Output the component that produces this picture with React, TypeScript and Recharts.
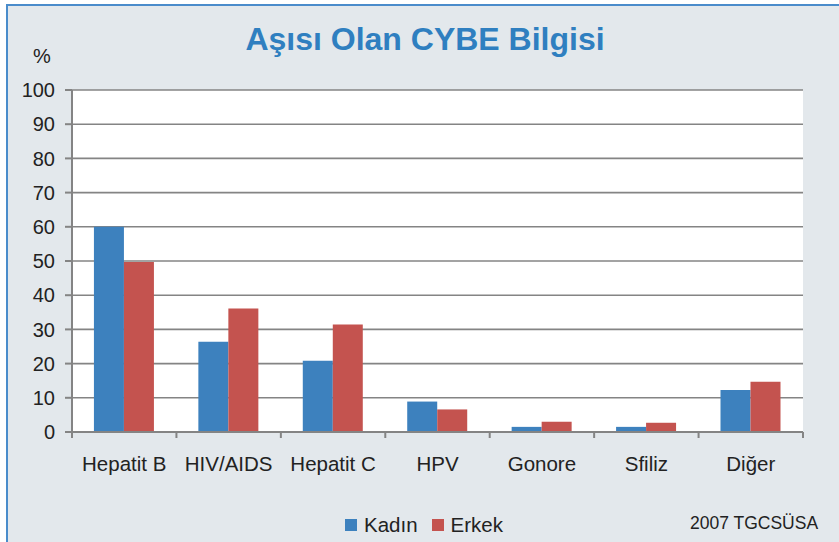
import React from 'react';
import { BarChart, Bar, XAxis, YAxis, CartesianGrid } from 'recharts';

const categories = ['Hepatit B', 'HIV/AIDS', 'Hepatit C', 'HPV', 'Gonore', 'Sfiliz', 'Diğer'];
const kadin = [60, 26.4, 20.8, 8.9, 1.5, 1.5, 12.3];
const erkek = [49.7, 36.1, 31.4, 6.6, 3.0, 2.7, 14.7];
const yTicks = [0, 10, 20, 30, 40, 50, 60, 70, 80, 90, 100];

const series = [
  { key: 'kadin', name: 'Kadın', color: '#3d81be' },
  { key: 'erkek', name: 'Erkek', color: '#c4534f' },
];

const data = categories.map((name, i) => ({ name, kadin: kadin[i], erkek: erkek[i] }));

const W = 839;
const H = 542;
const FONT = '"Liberation Sans", Arial, sans-serif';
const AXIS = '#848484';
const TEXT = '#222222';
const margin = { top: 90, right: 36, left: 12, bottom: 80 };
const plotLeft = 72;
const plotRight = W - margin.right;
const band = (plotRight - plotLeft) / categories.length;

// category labels sit in the middle of each band, tick marks go on the band edges
const CategoryTick = (props: any) => {
  const { x, y, payload, index } = props;
  const axisY = y - 6;
  return (
    <g>
      <line x1={x - band / 2} x2={x - band / 2} y1={axisY} y2={axisY + 6} stroke={AXIS} strokeWidth={2} />
      {index === categories.length - 1 && (
        <line x1={x + band / 2} x2={x + band / 2} y1={axisY} y2={axisY + 6} stroke={AXIS} strokeWidth={2} />
      )}
      <text x={x} y={axisY + 39} textAnchor="middle" fill={TEXT} fontSize={20.5} fontFamily={FONT}>
        {payload.value}
      </text>
    </g>
  );
};

export default function App() {
  return (
    <div style={{ position: 'absolute', left: 0, top: 0, width: W, height: H, overflow: 'hidden', background: '#fff', fontFamily: FONT }}>
      <div
        style={{
          position: 'absolute',
          left: 6,
          top: 4,
          width: W + 20,
          height: H + 20,
          background: '#e3e8ec',
          borderTop: '2px solid #4a8ccb',
          borderLeft: '2px solid #4a8ccb',
        }}
      />
      <div style={{ position: 'absolute', left: 0, top: 0 }}>
        <BarChart width={W} height={H} data={data} margin={margin} barCategoryGap="21%" barGap={0}>
          <CartesianGrid vertical={false} stroke={AXIS} strokeWidth={1.6} fill="#ffffff" />
          <XAxis
            dataKey="name"
            axisLine={{ stroke: AXIS, strokeWidth: 2 }}
            tickLine={false}
            tickSize={6}
            tickMargin={0}
            interval={0}
            height={30}
            tick={<CategoryTick />}
          />
          <YAxis
            domain={[0, 100]}
            ticks={yTicks}
            width={60}
            axisLine={{ stroke: AXIS, strokeWidth: 2 }}
            tickLine={{ stroke: AXIS, strokeWidth: 2 }}
            tickSize={7}
            tickMargin={10}
            tick={{ fill: TEXT, fontSize: 20, fontFamily: FONT }}
            interval={0}
          />
          {series.map((s) => (
            <Bar key={s.key} dataKey={s.key} name={s.name} fill={s.color} isAnimationActive={false} />
          ))}
        </BarChart>
      </div>
      <div
        style={{
          position: 'absolute',
          left: 0,
          width: 850,
          top: 21,
          textAlign: 'center',
          fontSize: 32,
          fontWeight: 'bold',
          color: '#2f7fc0',
        }}
      >
        Aşısı Olan CYBE Bilgisi
      </div>
      <div style={{ position: 'absolute', left: 33, top: 45, fontSize: 20, color: TEXT }}>%</div>
      <div style={{ position: 'absolute', left: 345, top: 513, display: 'flex', alignItems: 'center', fontSize: 20.5, color: TEXT }}>
        {series.map((s) => (
          <div key={s.key} style={{ display: 'flex', alignItems: 'center', marginRight: 14 }}>
            <div style={{ width: 12, height: 12, background: s.color, marginRight: 7 }} />
            {s.name}
          </div>
        ))}
      </div>
      <div style={{ position: 'absolute', left: 690, top: 513, fontSize: 17.5, color: TEXT }}>2007 TGCSÜSA</div>
    </div>
  );
}
